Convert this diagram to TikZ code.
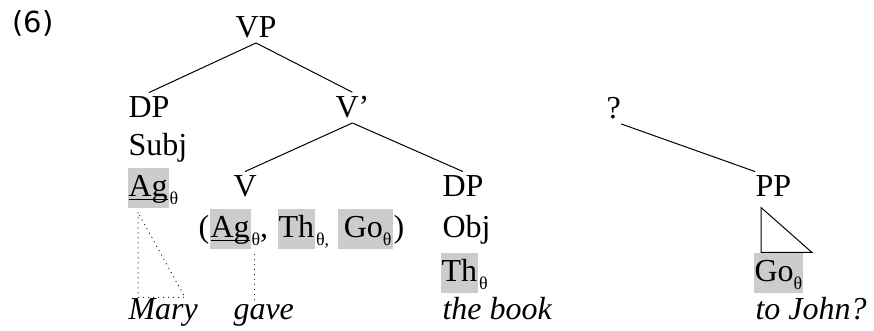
\documentclass[tikz,border=0pt]{standalone}
\usepackage{fontspec}
\setmainfont{Liberation Serif}
\newfontfamily\exfont{DejaVu Sans}
\definecolor{shade}{RGB}{204,204,204}
\newcommand\thsub[1]{\raisebox{-4pt}{\fontsize{9}{9}\selectfont #1}}
\newcommand\ulag{\underline{\smash{Ag}}}

\begin{document}
\begin{tikzpicture}[x=0.5pt, y=-0.5pt, line width=0.5pt,
  word/.style={anchor=base west, inner sep=0, font=\fontsize{16}{20}\selectfont},
  cat/.style={word, inner ysep=2pt},
  role/.style={word, fill=shade, inner xsep=0.5pt, text height=14.5pt, text depth=5.5pt},
  gloss/.style={word, font=\fontsize{16}{20}\selectfont\itshape},
  trace/.style={dotted, black!85}]
\useasboundingbox (0,0) rectangle (874,331);
\node[anchor=base west, inner sep=0, font=\exfont\fontsize{14.5}{16}\selectfont] (ex) at (12,33) {(6)};
% categories
\node[cat, anchor=base] (vp) at (256,38) {VP};
\node[cat] (dps) at (128,118) {DP};
\node[cat] (vbar) at (335,118) {V’};
\node[cat] (q) at (606,119) {?};
\node[cat] (v) at (233,197) {V};
\node[cat] (dpo) at (442,197) {DP};
\node[cat] (pp) at (755,197) {PP};
% grammatical functions
\node[word] (subj) at (128,156) {Subj};
\node[word] (obj) at (442,238) {Obj};
% theta roles
\node[role] (ag) at (127,197) {\ulag};
\node[word] (agt) at (ag.base east) {\thsub{θ}};
\node[word] (argl) at (198,238) {(};
\node[role] (argag) at (209,238) {\ulag};
\node[word] (argagt) at (argag.base east) {\thsub{θ},};
\node[role] (argth) at (277,238) {Th};
\node[word] (argtht) at (argth.base east) {\thsub{θ,}};
\node[role] (arggo) at (337,238) {\,Go\thsub{θ}\hspace{5pt}};
\node[word] (argr) at (arggo.base east) {)};
\node[role] (th) at (440,282) {Th};
\node[word] (tht) at (th.base east) {\thsub{θ}};
\node[role] (go) at (753,282) {Go\thsub{θ}\hspace{3.5pt}};
% words
\node[gloss] (mary) at (128,320) {Mary};
\node[gloss] (gave) at (233,320) {gave};
\node[gloss] (book) at (442,320) {the book};
\node[gloss] (john) at (755,320) {to John?};
% branches
\draw (vp.south) -- (dps.north);
\draw (vp.south) -- (vbar.north);
\draw (vbar.south) -- (v.north);
\draw (vbar.south) -- (dpo.north);
\draw (q.south east) -- (pp.north west);
\draw ([shift={(6,6)}]pp.south west) -- ++(0,45) -- ++(51,0) -- cycle;
% links to the words
\draw[trace] ([shift={(11,4)}]ag.south west) -- ++(0,85) -- ++(47,0) -- cycle;
\coordinate (agfoot) at ([shift={(3,5)}]argag.south east);
\draw[trace] (agfoot) -- (agfoot |- gave.north);
\end{tikzpicture}
\end{document}
